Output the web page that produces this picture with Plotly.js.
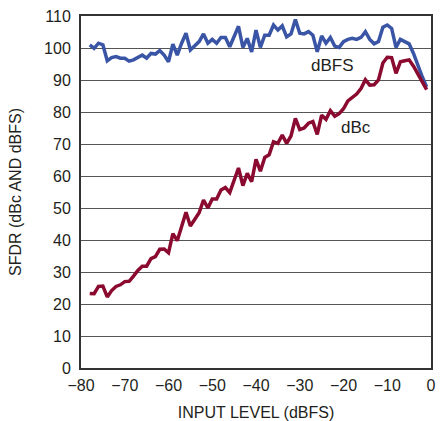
<!DOCTYPE html>
<html>
<head>
<meta charset="utf-8">
<script src="https://cdn.plot.ly/plotly-3.0.1.min.js"></script>
<style>html,body{margin:0;padding:0;background:#fff;}#chart{width:443px;height:421px;}</style>
</head>
<body>
<div id="chart"></div>
<script>
const inputLevel = [-78,-77,-76,-75,-74,-73,-72,-71,-70,-69,-68,-67,-66,-65,-64,-63,-62,-61,-60,-59,-58,-57,-56,-55,-54,-53,-52,-51,-50,-49,-48,-47,-46,-45,-44,-43,-42,-41,-40,-39,-38,-37,-36,-35,-34,-33,-32,-31,-30,-29,-28,-27,-26,-25,-24,-23,-22,-21,-20,-19,-18,-17,-16,-15,-14,-13,-12,-11,-10,-9,-8,-7,-6,-5,-4,-3,-2,-1];

const sfdrDbfs = [101,99.9,101.5,101,96,97,97.3,96.8,96.8,95.9,96.3,97.1,97.8,96.8,98.3,98.1,99.2,97.8,95.7,101.2,97.8,101.5,104.6,99.4,100.9,102,104.4,101.5,102.7,101.5,103.3,103.3,100.4,103.5,106.8,100.2,103,98.8,105.6,100.2,104,104,107.2,105.6,106.9,103.5,104.4,108.9,104.6,104.4,105.1,104,98.8,103.8,101.5,103.3,100.6,100.2,102,102.7,103,102.7,103.3,105.1,102.7,101.3,102,106.5,107.2,106.1,100.2,102.7,102,101.3,98.3,94.5,91,87.8];

const sfdrDbc = [23.3,23.2,25.5,25.6,22.2,24.2,25.5,26,27,27.1,28.7,30.5,31.8,31.8,34.2,34.8,37.1,37.2,36,42,39.8,44.2,48.7,44.4,46.5,48.5,52.5,50,52.8,52.8,55.6,56.4,54.8,58.5,62.5,57,60.8,58.2,65.2,61.5,65.8,66.6,70.7,70.2,72.8,70.2,72.5,78,74.5,75,76.5,77,73,79,77.7,80.4,78.7,79.5,81,83.5,84.5,85.6,87.3,90.1,88.4,88.5,90,95.3,97.1,97,92.1,95.7,96,96.3,94.3,92,89.5,87];

const xTicks = [-80,-70,-60,-50,-40,-30,-20,-10,0];
const yTicks = [0,10,20,30,40,50,60,70,80,90,100,110];

const FONT = '"Liberation Sans Narrow", "Arial Narrow", "Liberation Sans", Arial, sans-serif';

const traces = [
  {x: inputLevel, y: sfdrDbfs, type: 'scatter', mode: 'lines', name: 'dBFS',
   line: {color: '#3a55a5', width: 3.5}},
  {x: inputLevel, y: sfdrDbc, type: 'scatter', mode: 'lines', name: 'dBc',
   line: {color: '#8b0a2f', width: 3.5}}
];

const layout = {
  width: 443, height: 421,
  margin: {l: 81, r: 12, t: 16, b: 53},
  paper_bgcolor: '#fff', plot_bgcolor: '#fff',
  showlegend: false,
  font: {family: FONT, size: 16, color: '#231f20'},
  xaxis: {
    range: [-80, 0], tickvals: xTicks, ticktext: xTicks.map(v => v < 0 ? '\u2212' + Math.abs(v) : String(v)),
    showgrid: false, zeroline: false,
    showline: true, linecolor: '#333', linewidth: 2, mirror: true,
    ticks: '', ticklabelstandoff: 2, tickfont: {family: FONT, size: 16, color: '#231f20'},
    title: {text: 'INPUT LEVEL (dBFS)', font: {family: FONT, size: 16, color: '#231f20'}, standoff: 14}
  },
  yaxis: {
    range: [0, 110], tickvals: yTicks,
    showgrid: true, gridcolor: '#555', gridwidth: 1, zeroline: false,
    showline: true, linecolor: '#333', linewidth: 2, mirror: true,
    ticks: '', ticklabelstandoff: 5, tickfont: {family: FONT, size: 16, color: '#231f20'},
    title: {text: 'SFDR (dBc AND dBFS)', font: {family: FONT, size: 16, color: '#231f20'}, standoff: 18}
  },
  annotations: [
    {x: -22.6, y: 94.4, xref: 'x', yref: 'y', text: 'dBFS', showarrow: false,
     font: {family: FONT, size: 17, color: '#231f20'}},
    {x: -17.1, y: 75.3, xref: 'x', yref: 'y', text: 'dBc', showarrow: false,
     font: {family: FONT, size: 17, color: '#231f20'}}
  ]
};

Plotly.newPlot('chart', traces, layout, {displayModeBar: false, staticPlot: true});
</script>
</body>
</html>
